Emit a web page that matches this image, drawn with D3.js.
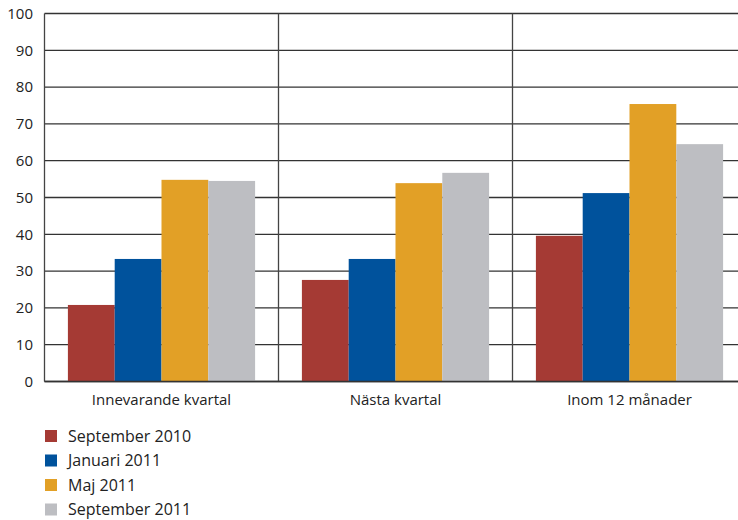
<!DOCTYPE html>
<html><head><meta charset="utf-8">
<script src="https://cdn.jsdelivr.net/npm/d3@7"></script>
<style>body{margin:0;background:#fff}svg{display:block}text{font-family:"Open Sans",sans-serif;fill:#222}</style>
</head><body><svg id="c" width="738" height="520"></svg>
<script>
const categories = ["Innevarande kvartal", "Nästa kvartal", "Inom 12 månader"];
const seriesNames = ["September 2010", "Januari 2011", "Maj 2011", "September 2011"];
const sep2010 = [20.8, 27.6, 39.6];
const jan2011 = [33.3, 33.3, 51.2];
const maj2011 = [54.8, 53.9, 75.4];
const sep2011 = [54.5, 56.7, 64.5];
const yTicks = [0,10,20,30,40,50,60,70,80,90,100];
const colors = ["#a53a34", "#00529c", "#e2a026", "#bdbec2"];
const series = [sep2010, jan2011, maj2011, sep2011];

const svg = d3.select("#c");
const x0 = d3.scaleBand().domain(categories).range([44.5, 746.5]).paddingInner(0).paddingOuter(0);
const x1 = d3.scaleBand().domain(d3.range(4)).range([0, x0.bandwidth()]).paddingOuter(0.5).paddingInner(0);
const y = d3.scaleLinear().domain([0,100]).range([381.5, 13.5]);

svg.append("g").selectAll("line").data(yTicks).join("line")
  .attr("x1", 44.5).attr("x2", 738).attr("y1", d=>y(d)).attr("y2", d=>y(d))
  .attr("stroke", "#333").attr("stroke-width", 1.3);
svg.append("g").selectAll("line").data(categories).join("line")
  .attr("x1", d=>x0(d)).attr("x2", d=>x0(d)).attr("y1", y(100)).attr("y2", y(0))
  .attr("stroke", "#444").attr("stroke-width", 1.3);

const g = svg.append("g");
categories.forEach((c, ci) => {
  series.forEach((s, si) => {
    g.append("rect").attr("x", x0(c) + x1(si)).attr("width", x1.bandwidth())
      .attr("y", y(s[ci])).attr("height", y(0) - y(s[ci])).attr("fill", colors[si]);
  });
});
svg.append("line").attr("x1", 44.5).attr("x2", 738).attr("y1", y(0)).attr("y2", y(0)).attr("stroke", "#333").attr("stroke-width", 1.3);

const ya = svg.append("g").attr("transform", "translate(33,0)")
  .call(d3.axisLeft(y).tickValues(yTicks).tickSize(0).tickPadding(0));
ya.select(".domain").remove();
ya.selectAll("text").attr("font-size", 15).attr("font-family", '"Open Sans",sans-serif').attr("fill", "#222");

const xa = svg.append("g").attr("transform", "translate(0,394)")
  .call(d3.axisBottom(x0).tickSize(0).tickPadding(0));
xa.select(".domain").remove();
xa.selectAll("text").attr("font-size", 15).attr("font-family", '"Open Sans",sans-serif').attr("fill", "#222");

const lg = svg.append("g").selectAll("g").data(seriesNames).join("g")
  .attr("transform", (d,i)=>`translate(45,${430 + i*24.5})`);
lg.append("rect").attr("width", 12).attr("height", 12).attr("fill", (d,i)=>colors[i]);
lg.append("text").attr("x", 23).attr("y", 11.5).attr("font-size", 16).text(d=>d);
</script></body></html>
